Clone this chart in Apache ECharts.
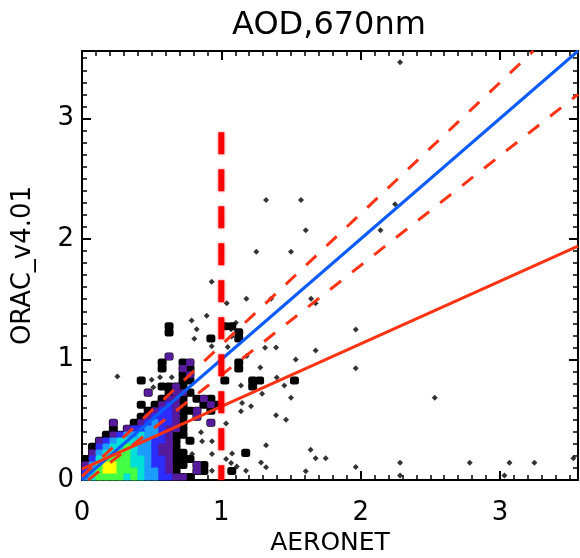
<!DOCTYPE html>
<html><head><meta charset="utf-8">
<script src="https://cdn.jsdelivr.net/npm/echarts@6/dist/echarts.min.js"></script>
<style>html,body{margin:0;padding:0;background:#fff}#c{width:580px;height:558px}</style>
</head><body><div id="c"></div>
<script>
// ---- data ----
const titleText = 'AOD,670nm';
const xName = 'AERONET';
const yName = 'ORAC_v4.01';
const axisMin = 0;
const axisMax = 3.56;
const majorInterval = 1;

// density contour levels on a 0.05 x 0.05 grid (rows top -> bottom, Y 1.25..0; cols X 0..1.6)
// '.' empty, 1 black, 2 purple, 3 blue, 4 light blue, 5 cyan, 6 green, 7 yellow
const densityCell = 0.05;
const densityRows = [
  "............1.......11..........",
  "............1.........1.........",
  "..................1...1.........",
  "................................",
  "................................",
  "............2...................",
  "...........1..12......1.........",
  "...........1..21......1.........",
  "..............12................",
  "........1.....11....1...11....1.",
  "...........1121.........1.......",
  ".........2..1221................",
  "...........1221.121.............",
  "........1.12321..121............",
  ".........12332112.1.............",
  "........1233321.2...............",
  "....2..12343321...2.............",
  "....1.233443221.................",
  "...123445443211.................",
  "..234555443321.1................",
  ".1345565443221..................",
  ".24556654432211........1........",
  "1356666554332111................",
  "246776655433211.21..............",
  "35677666544321..21...1..........",
  "4566665654433221................"
];
const levelColors = ['#ffffff','#000000','#561a9c','#2c2cff','#1c9cff','#00e0d8','#44ff44','#ffff00'];

// isolated points
const dotsX = [2.283,1.321,1.572,1.606,2.247,2.142,1.251,1.500,0.931,1.039,1.180,1.357,1.644,1.677,0.895,
  1.965,1.534,1.677,1.965,1.500,2.532,1.641,1.677,1.749,1.606,1.965,2.283,2.283,2.783,3.068,3.032,3.247,3.527,
  0.787,0.823,1.105,1.070,0.806,1.074,0.931,1.046,1.182,1.314,1.393,1.280,1.141,1.398,1.452,1.293,
  0.254,0.560,0.644,0.512,0.500,0.854,0.862,0.933,0.790,0.933,1.034,1.149,1.213,1.141,1.393,1.464,1.321,
  1.077,1.034,1.070,1.111,1.177,1.285,1.321,0.933];
const dotsY = [3.466,2.324,2.324,2.072,2.288,2.072,1.895,1.895,1.646,1.466,1.504,1.504,1.504,1.466,1.362,
  1.249,1.000,1.075,0.928,0.682,0.682,0.252,0.180,0.180,0.072,0.108,0.144,0.038,0.144,0.144,0.038,0.144,0.180,
  1.324,1.250,1.305,1.252,1.172,1.190,1.110,1.103,1.030,1.097,1.100,0.934,0.784,0.850,0.784,0.715,
  0.859,0.853,0.853,0.770,0.832,0.396,0.321,0.321,0.216,0.216,0.468,0.640,0.612,0.570,0.537,0.501,0.288,
  0.219,0.175,0.141,0.113,0.077,0.146,0.105,0.077];

// reference lines
const oneToOneLine = [[0, 0], [3.56, 3.56]];
const upperEnvelope = [[0, 0.03], [3.24, 3.56]];
const lowerEnvelope = [[0.044, 0], [3.56, 3.20]];
const fitLine = [[0, 0.09], [3.56, 1.94]];
const thresholdLine = [[1, 2.885], [1, 0]];

// ---- build ----
const densityData = [];
densityRows.forEach((row, r) => {
  const j = densityRows.length - 1 - r;
  for (let i = 0; i < row.length; i++) {
    const ch = row[i];
    if (ch !== '.') densityData.push([i * densityCell, j * densityCell, +ch]);
  }
});
const colouredData = densityData.filter(d => d[2] >= 2);
const dotsData = dotsX.map((x, k) => [x, dotsY[k]]);

function cellRenderer(pad, radius, useLevelColour) {
  return function (params, api) {
    const x = api.value(0), y = api.value(1), lvl = api.value(2);
    const p = api.coord([x, y + densityCell]);
    const s = api.size([densityCell, densityCell]);
    return { type: 'rect',
      shape: { x: p[0] - pad, y: p[1] - pad, width: s[0] + 2 * pad, height: s[1] + 2 * pad, r: radius },
      style: { fill: useLevelColour ? levelColors[lvl] : '#000' } };
  };
}

const FONT = 'DejaVu Sans';
const tickFmt = v => (Math.abs(v - Math.round(v)) < 1e-9 ? String(Math.round(v)) : '');
function makeAxis(pos, label, extra) {
  return Object.assign({
    type: 'value', position: pos, min: axisMin, max: axisMax, interval: majorInterval,
    axisLine: { show: true, onZero: false, lineStyle: { color: '#000', width: 2 } },
    axisTick: { show: true, inside: true, length: 9, lineStyle: { color: '#000', width: 2 } },
    minorTick: { show: true, splitNumber: 10, length: 5, lineStyle: { color: '#000', width: 1.5 } },
    splitLine: { show: false },
    axisLabel: label ? Object.assign({ show: true, showMaxLabel: false, color: '#000', fontFamily: FONT,
      fontSize: 26, formatter: tickFmt }, label) : { show: false }
  }, extra || {});
}

const chart = echarts.init(document.getElementById('c'), null, { renderer: 'canvas' });
chart.setOption({
  animation: false,
  backgroundColor: '#fff',
  title: { text: titleText, left: 324, textAlign: 'center', top: 5,
    textStyle: { fontFamily: FONT, fontSize: 32, fontWeight: 'normal', color: '#000' } },
  grid: { left: 82, right: 2, top: 51, bottom: 78, containLabel: false, outerBoundsMode: 'none' },
  xAxis: [
    makeAxis('bottom', { margin: 20 }, { name: xName, nameLocation: 'middle', nameGap: 51,
      nameTextStyle: { fontFamily: FONT, fontSize: 25, color: '#000' } }),
    makeAxis('top', null)
  ],
  yAxis: [
    makeAxis('left', { margin: 8 }, { name: yName, nameLocation: 'middle', nameGap: 46,
      nameTextStyle: { fontFamily: FONT, fontSize: 26, color: '#000' } }),
    makeAxis('right', null)
  ],
  series: [
    { type: 'custom', data: densityData, encode: { x: 0, y: 1 }, z: 1, renderItem: cellRenderer(1, 2.5, false) },
    { type: 'custom', data: colouredData, encode: { x: 0, y: 1 }, z: 1, renderItem: cellRenderer(0.4, 1.5, true) },
    { type: 'scatter', data: dotsData, symbol: 'diamond', symbolSize: 6, itemStyle: { color: '#000' }, z: 2 },
    { type: 'line', data: oneToOneLine, symbol: 'none', lineStyle: { color: '#0b5cff', width: 3 }, z: 3 },
    { type: 'line', data: upperEnvelope, symbol: 'none', lineStyle: { color: '#ff3311', width: 3, type: [14, 14] }, z: 3 },
    { type: 'line', data: lowerEnvelope, symbol: 'none', lineStyle: { color: '#ff3311', width: 3, type: [14, 14] }, z: 3 },
    { type: 'line', data: fitLine, symbol: 'none', lineStyle: { color: '#ff3311', width: 3 }, z: 3 },
    { type: 'line', data: thresholdLine, symbol: 'none', z: 4,
      lineStyle: { color: '#ff0000', width: 6, type: [22, 15], shadowBlur: 3, shadowColor: 'rgba(255,0,0,0.5)' } }
  ]
});
</script></body></html>
